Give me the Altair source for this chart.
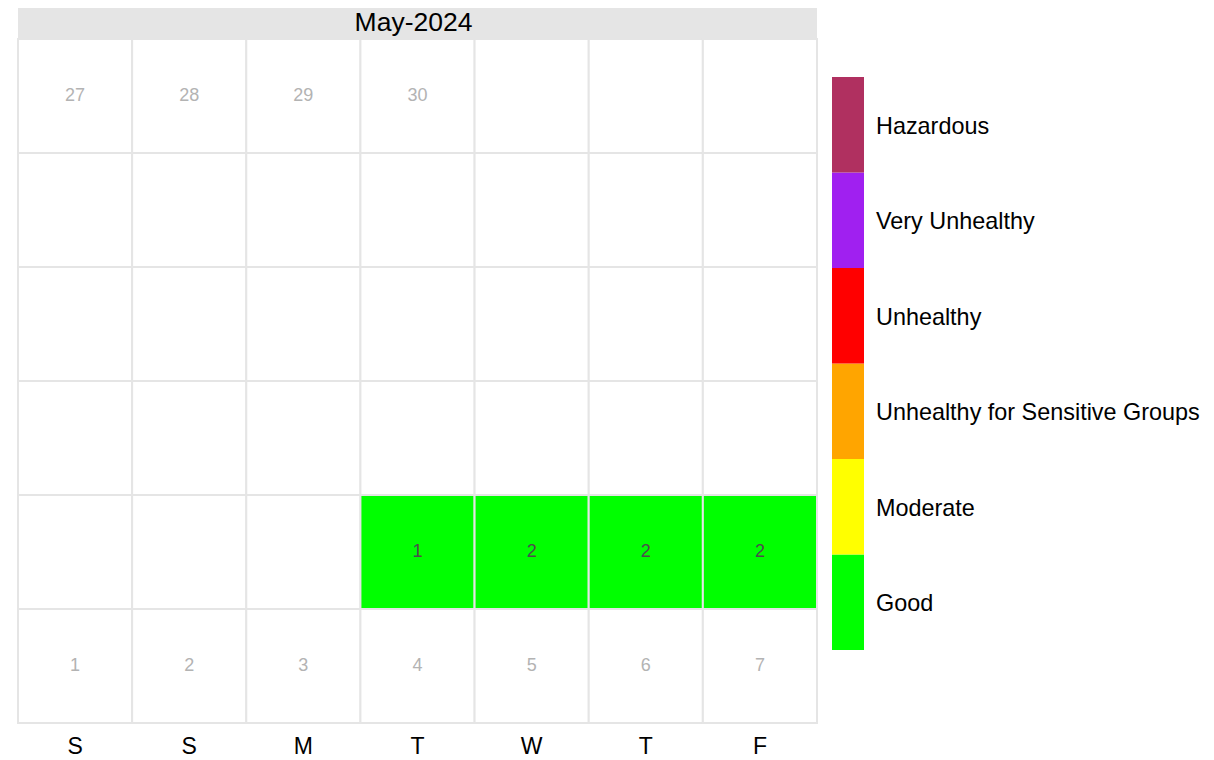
import altair as alt
import pandas as pd

# ---- data ----
month_title = "May-2024"
day_letters = ["S", "S", "M", "T", "W", "T", "F"]
n_rows = 6

# grey date labels (days outside the plotted data)
date_cols = [0, 1, 2, 3, 0, 1, 2, 3, 4, 5, 6]
date_rows = [0, 0, 0, 0, 5, 5, 5, 5, 5, 5, 5]
date_text = ["27", "28", "29", "30", "1", "2", "3", "4", "5", "6", "7"]

# coloured cells with values
val_cols = [3, 4, 5, 6]
val_rows = [4, 4, 4, 4]
val_values = [1, 2, 2, 2]
val_category = ["Good", "Good", "Good", "Good"]

categories = ["Good", "Moderate", "Unhealthy for Sensitive Groups",
              "Unhealthy", "Very Unhealthy", "Hazardous"]
cat_colors = ["#00FF00", "#FFFF00", "#FFA500", "#FF0000", "#A020F0", "#B03060"]

FONT = "Liberation Sans"
GRID_W = 799
GRID_H = 684
HEAD_H = 33

# ---- tables ----
cells = []
val_lookup = {(c, r): (v, k) for c, r, v, k in zip(val_cols, val_rows, val_values, val_category)}
for r in range(n_rows):
    for c in range(len(day_letters)):
        cat = val_lookup.get((c, r), (None, "blank"))[1]
        cells.append({"col": c, "row": r, "cat": cat})
cells_df = pd.DataFrame(cells)
dates_df = pd.DataFrame({"col": date_cols, "row": date_rows, "label": date_text})
vals_df = pd.DataFrame({"col": val_cols, "row": val_rows, "label": [str(v) for v in val_values]})
legend_df = pd.DataFrame({"cat": categories})

label_expr = "[" + ",".join("'%s'" % d for d in day_letters) + "][datum.value]"

x_enc = alt.X("col:O", scale=alt.Scale(domain=list(range(7)), paddingInner=0, paddingOuter=0),
              axis=alt.Axis(title=None, labelExpr=label_expr, labelAngle=0, ticks=False,
                            domain=False, grid=False, labelFontSize=23, labelColor="black",
                            labelFont=FONT, labelPadding=12))
y_enc = alt.Y("row:O", scale=alt.Scale(domain=list(range(n_rows)), paddingInner=0, paddingOuter=0),
              axis=None)

color_scale = alt.Scale(domain=categories + ["blank"], range=cat_colors + ["#FFFFFF"])

rects = alt.Chart(cells_df).mark_rect(stroke="#E5E5E5", strokeWidth=2).encode(
    x=x_enc, y=y_enc,
    color=alt.Color("cat:N", scale=color_scale, legend=None),
)
date_txt = alt.Chart(dates_df).mark_text(font=FONT, fontSize=18, color="#B3B3B3").encode(
    x=x_enc, y=y_enc, text="label:N")
val_txt = alt.Chart(vals_df).mark_text(font=FONT, fontSize=18, color="#4D4D4D").encode(
    x=x_enc, y=y_enc, text="label:N")

grid = alt.layer(rects, date_txt, val_txt).properties(width=GRID_W, height=GRID_H)

head_df = pd.DataFrame({"title": [month_title]})
head_rect = alt.Chart(head_df).mark_rect(color="#E5E5E5").encode(
    x=alt.value(0), x2=alt.value(GRID_W), y=alt.value(0), y2=alt.value(HEAD_H))
head_txt = alt.Chart(head_df).mark_text(font=FONT, fontSize=26.5, color="black", baseline="middle").encode(
    x=alt.value(GRID_W / 2 - 4), y=alt.value(HEAD_H / 2 + 1), text="title:N")
header = alt.layer(head_rect, head_txt).properties(width=GRID_W, height=HEAD_H)

left = alt.vconcat(header, grid, spacing=0)

leg_y = alt.Y("cat:N", sort=categories[::-1],
              scale=alt.Scale(range=[72, 645], paddingInner=0, paddingOuter=0), axis=None)
leg_rect = alt.Chart(legend_df).mark_rect().encode(
    y=leg_y, x=alt.value(0), x2=alt.value(32),
    color=alt.Color("cat:N", scale=color_scale, legend=None))
leg_txt = alt.Chart(legend_df).mark_text(font=FONT, fontSize=23.4, color="black", align="left",
                                         baseline="middle", dy=2).encode(
    y=leg_y, x=alt.value(44), text="cat:N")
legend = alt.layer(leg_rect, leg_txt).properties(width=32, height=HEAD_H + GRID_H)

chart = alt.hconcat(left, legend, spacing=14).properties(
    padding={"left": 9, "top": -3, "right": 0, "bottom": 0}
).configure_view(stroke=None).configure_concat(spacing=0)

chart.save("out.html", embed_options={"renderer": "svg", "actions": False})
